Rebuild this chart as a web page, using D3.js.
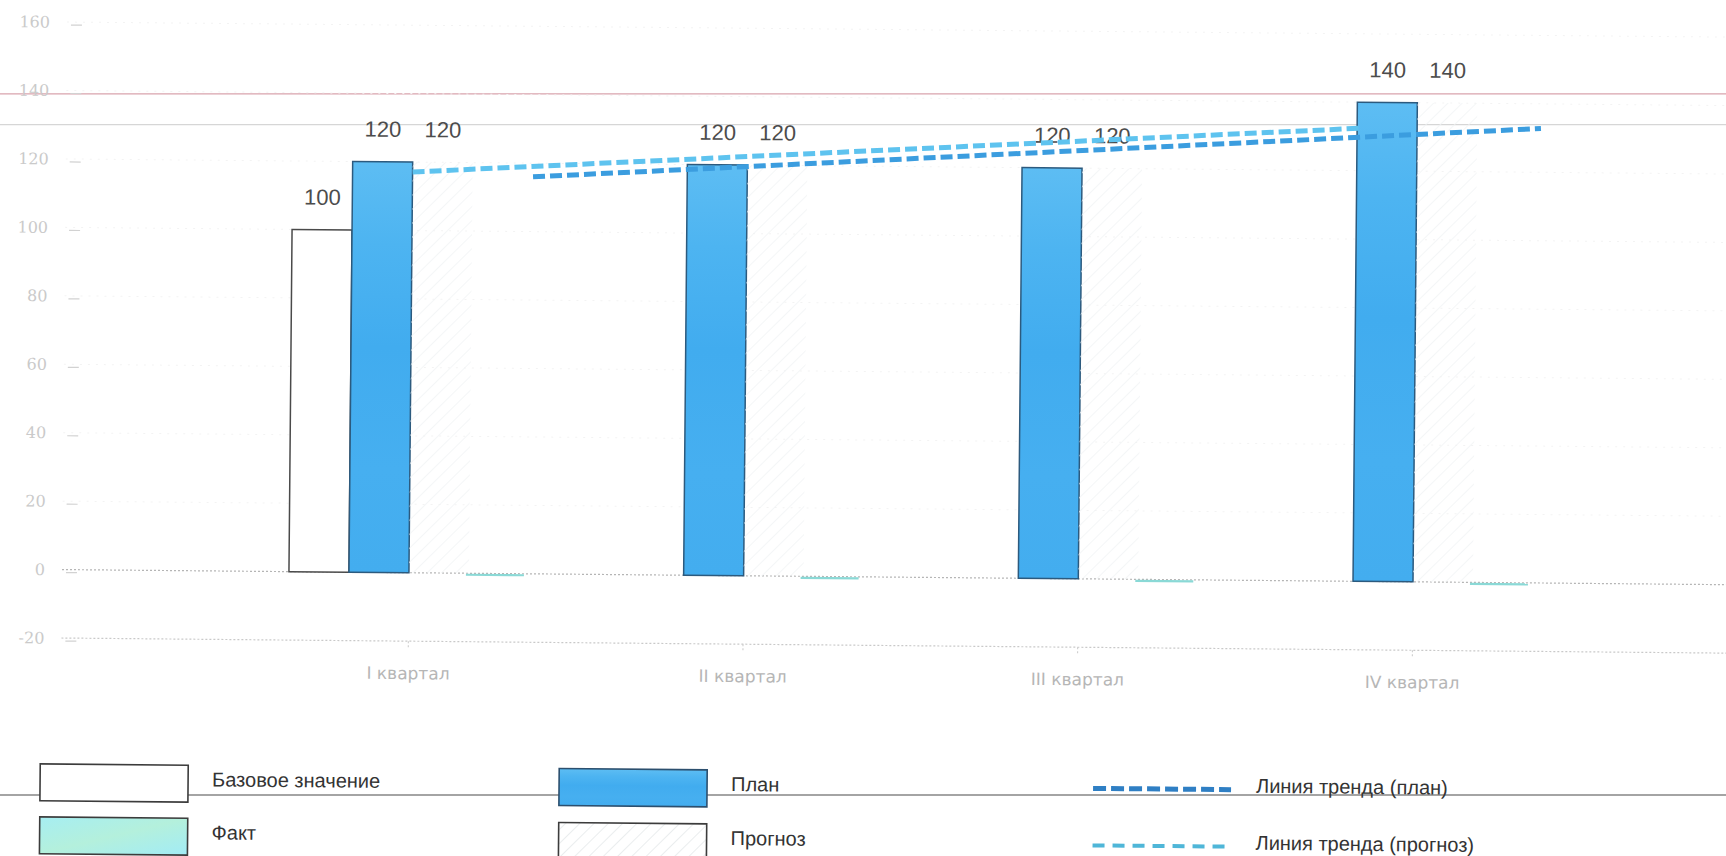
<!DOCTYPE html>
<html><head><meta charset="utf-8">
<script src="https://cdn.jsdelivr.net/npm/d3@7"></script>
<style>html,body{margin:0;padding:0;background:#fff;} svg{display:block;}</style>
</head><body>
<svg id="chart" width="1726" height="856"></svg>
<script>
// ---- data ----
const categories = ["I квартал", "II квартал", "III квартал", "IV квартал"];
const seriesKeys = ["base", "plan", "forecast", "fact"];
const baseValues = [100, null, null, null];
const planValues = [120, 120, 120, 140];
const forecastValues = [120, 120, 120, 140];
const factValues = [0, 0, 0, 0];
const yTickValues = [-20, 0, 20, 40, 60, 80, 100, 120, 140, 160];
// trend lines: [category index position, value]
const planTrend = [[0.36, 116.0], [3.37, 132.8]];
const forecastTrend = [[0.0, 117.1], [2.83, 132.4]];
const referenceLines = [139, 130];
const legendLabels = {
  base: "Базовое значение", fact: "Факт", plan: "План", forecast: "Прогноз",
  planTrend: "Линия тренда (план)", forecastTrend: "Линия тренда (прогноз)"
};

const seriesValues = { base: baseValues, plan: planValues, forecast: forecastValues, fact: factValues };
const rows = categories.map((c, i) => ({ cat: c, i, values: seriesKeys.map(k => ({ key: k, v: seriesValues[k][i] })) }));

const W = 1726, H = 856;
const svg = d3.select("#chart");

// defs
const defs = svg.append("defs");
const grad = defs.append("linearGradient").attr("id", "planGrad").attr("x1", 0).attr("y1", 0).attr("x2", 0).attr("y2", 1);
[[0, "#5dbdf3"], [0.2, "#4db4f1"], [0.45, "#41acef"], [0.75, "#46aff0"], [1, "#43adef"]].forEach(([o, c]) =>
  grad.append("stop").attr("offset", o).attr("stop-color", c));
const fgrad = defs.append("linearGradient").attr("id", "factGrad").attr("x1", 0).attr("y1", 0).attr("x2", 1).attr("y2", 1);
[[0, "#a6eef2"], [0.5, "#b4f0dc"], [1, "#a2ecf6"]].forEach(([o, c]) =>
  fgrad.append("stop").attr("offset", o).attr("stop-color", c));
function hatch(id, color) {
  const p = defs.append("pattern").attr("id", id).attr("width", 10).attr("height", 10)
    .attr("patternUnits", "userSpaceOnUse").attr("patternTransform", "rotate(45)");
  p.append("line").attr("x1", 0).attr("y1", 0).attr("x2", 0).attr("y2", 10)
    .attr("stroke", color).attr("stroke-width", 1.5);
}
hatch("hatchBar", "#f1f3f4");
hatch("hatchLegend", "#e3e7e9");

// scales
const y = d3.scaleLinear().domain([-20, 160]).range([638, 22]);
const x = d3.scaleBand().domain(categories).range([241.6, 1580.4]).paddingInner(0.283).paddingOuter(0.1415);
const xs = d3.scaleBand().domain(seriesKeys).range([0, x.bandwidth()]);
const xIdx = d3.scaleLinear().domain([0, 3]).range([x(categories[0]) + x.bandwidth() / 2, x(categories[3]) + x.bandwidth() / 2]);

// screen-horizontal reference lines (not rotated)
svg.selectAll(".ref").data(referenceLines).join("line")
  .attr("x1", 0).attr("x2", W).attr("y1", d => y(d)).attr("y2", d => y(d))
  .attr("stroke", (d, i) => i === 0 ? "#d9a3ad" : "#d6d6d6").attr("stroke-width", 1.2);

// legend separator (behind legend)
svg.append("line").attr("x1", 0).attr("x2", W).attr("y1", 795).attr("y2", 795)
  .attr("stroke", "#a4a4a4").attr("stroke-width", 1.8);

// rotated content (scan tilt)
const g = svg.append("g").attr("transform", "rotate(0.52, 60, 570)");

// faint grid
g.selectAll(".grid").data(yTickValues.filter(v => v !== 0 && v !== -20)).join("line")
  .attr("x1", 62).attr("x2", W + 40).attr("y1", d => y(d)).attr("y2", d => y(d))
  .attr("stroke", "#f3f3f3").attr("stroke-dasharray", "2,6");
g.selectAll(".zl").data([0, -20]).join("line")
  .attr("x1", 62).attr("x2", W + 40).attr("y1", d => y(d)).attr("y2", d => y(d))
  .attr("stroke", d => d === 0 ? "#b5b5b5" : "#c9c9c9").attr("stroke-width", 1.2).attr("stroke-dasharray", "2,2");

// y axis
const yAxisG = g.append("g").attr("transform", "translate(45,0)")
  .call(d3.axisLeft(y).tickValues(yTickValues).tickSize(0).tickPadding(0).tickFormat(d => String(d)));
yAxisG.select(".domain").remove();
yAxisG.selectAll("text").attr("fill", "#cacaca").style("font-family", "'DejaVu Serif', serif").style("font-size", "16px");
g.selectAll(".ydash").data(yTickValues).join("line")
  .attr("x1", 66).attr("x2", 77).attr("y1", d => y(d) + 3).attr("y2", d => y(d) + 3)
  .attr("stroke", "#d2d2d2").attr("stroke-width", 1.2);

// x axis
const xAxisG = g.append("g").attr("transform", `translate(0,${y(-20)})`)
  .call(d3.axisBottom(x).tickSize(8).tickPadding(18));
xAxisG.select(".domain").remove();
xAxisG.selectAll(".tick line").attr("stroke", "#c8c8c8").attr("stroke-dasharray", "2,2");
xAxisG.selectAll("text").attr("fill", "#b6b6b6").style("font-family", "'DejaVu Sans'").style("font-size", "17px");

// bars
const groups = g.selectAll(".grp").data(rows).join("g")
  .attr("transform", d => `translate(${x(d.cat)},0)`);

function barStyle(sel) {
  sel.attr("fill", d => d.key === "base" ? "#ffffff" : d.key === "plan" ? "url(#planGrad)" : d.key === "forecast" ? "url(#hatchBar)" : "url(#factGrad)")
    .attr("stroke", d => d.key === "base" ? "#4a4a4a" : d.key === "plan" ? "#2c5a7e" : "none")
    .attr("stroke-width", 1.5);
}
groups.selectAll("rect.bar").data(d => d.values.filter(v => v.v !== null && v.key !== "fact")).join("rect")
  .attr("class", "bar")
  .attr("x", d => xs(d.key)).attr("width", xs.bandwidth())
  .attr("y", d => y(Math.max(0, d.v))).attr("height", d => Math.abs(y(0) - y(d.v)))
  .call(barStyle);
// fact bars (zero-height -> thin line)
groups.selectAll("line.fact").data(d => d.values.filter(v => v.key === "fact")).join("line")
  .attr("class", "fact")
  .attr("x1", d => xs(d.key) - 3).attr("x2", d => xs(d.key) + xs.bandwidth() - 5)
  .attr("y1", d => y(d.v) + 1.5).attr("y2", d => y(d.v) + 1.5)
  .attr("stroke", "#8ad9d6").attr("stroke-width", 2.2);

// value labels
groups.selectAll("text.val").data(d => d.values.filter(v => v.v !== null && v.v > 0)).join("text")
  .attr("class", "val")
  .attr("x", d => xs(d.key) + xs.bandwidth() / 2)
  .attr("y", d => y(d.v) - 25)
  .attr("text-anchor", "middle")
  .attr("fill", "#4c4c4c")
  .style("font-family", "'Liberation Sans', Arial, sans-serif").style("font-size", "22px")
  .text(d => d.v);

// trend lines
const line = d3.line().x(d => xIdx(d[0])).y(d => y(d[1]));
g.append("path").datum(planTrend).attr("d", line).attr("fill", "none")
  .attr("stroke", "#3b9ddf").attr("stroke-width", 5).attr("stroke-dasharray", "12,5");
g.append("path").datum(forecastTrend).attr("d", line).attr("fill", "none")
  .attr("stroke", "#5ec3ef").attr("stroke-width", 5).attr("stroke-dasharray", "12,5");

// legend
const lg = g.append("g");
const legendFont = "'Liberation Sans Narrow', 'Liberation Sans', Arial, sans-serif";
const boxes = [
  { key: "base", x: 42, y: 764 }, { key: "fact", x: 42, y: 817 },
  { key: "plan", x: 561, y: 764 }, { key: "forecast", x: 561, y: 818 }
];
lg.selectAll("rect").data(boxes).join("rect")
  .attr("x", d => d.x).attr("y", d => d.y).attr("width", 148).attr("height", 37)
  .attr("fill", d => d.key === "base" ? "#fff" : d.key === "plan" ? "url(#planGrad)" : d.key === "forecast" ? "url(#hatchLegend)" : "url(#factGrad)")
  .attr("stroke", d => d.key === "plan" ? "#2c4f6e" : "#3c3c3c").attr("stroke-width", 1.6);
lg.selectAll("text.bt").data(boxes).join("text").attr("class", "bt")
  .attr("x", d => d.x + 172).attr("y", d => d.y + 14).attr("dy", "0.35em")
  .attr("fill", "#333").style("font-family", legendFont).style("font-size", "20px")
  .text(d => legendLabels[d.key]);
const tl = [
  { key: "planTrend", y: 779, color: "#2f7fc4", dash: "13,5", w: 5 },
  { key: "forecastTrend", y: 836, color: "#4fb6d8", dash: "12,8", w: 4 }
];
lg.selectAll("line.tl").data(tl).join("line").attr("class", "tl")
  .attr("x1", 1095).attr("x2", 1233).attr("y1", d => d.y).attr("y2", d => d.y)
  .attr("stroke", d => d.color).attr("stroke-width", d => d.w).attr("stroke-dasharray", d => d.dash);
lg.selectAll("text.tt").data(tl).join("text").attr("class", "tt")
  .attr("x", 1258).attr("y", d => d.y - 4).attr("dy", "0.35em")
  .attr("fill", "#333").style("font-family", legendFont).style("font-size", "20px")
  .text(d => legendLabels[d.key]);
</script>
</body></html>
